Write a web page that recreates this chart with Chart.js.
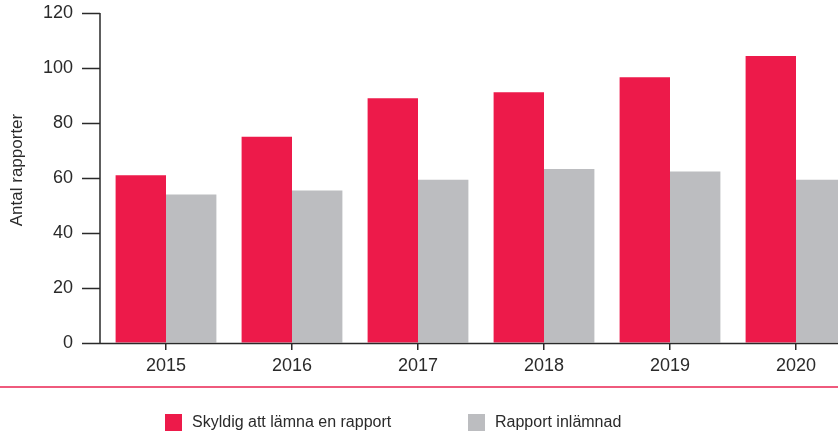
<!DOCTYPE html>
<html>
<head>
<meta charset="utf-8">
<script src="https://cdn.jsdelivr.net/npm/chart.js@4"></script>
<style>
  html, body { margin: 0; padding: 0; background: #fff; }
  #wrap { width: 838px; height: 435px; overflow: hidden; }
</style>
</head>
<body>
<div id="wrap"><canvas id="chart" width="860" height="435"></canvas></div>
<script>
const years = ["2015", "2016", "2017", "2018", "2019", "2020"];
const skyldig = [61, 75, 89, 91.2, 96.6, 104.4];
const inlamnad = [54, 55.5, 59.4, 63.3, 62.4, 59.4];
const seriesNames = ["Skyldig att lämna en rapport", "Rapport inlämnad"];
const seriesColors = ["#ED1A4A", "#BCBDC0"];
const yTitle = "Antal rapporter";

const FONT = "'Liberation Sans', Arial, sans-serif";
const INK = "#2a2a2a";

// axis lines, title, pink rule and legend drawn by hand
const extras = {
  id: "extras",
  afterDraw(chart) {
    const { ctx, chartArea, scales } = chart;
    const y = scales.y;
    const axX = chartArea.left - 3;
    ctx.save();
    ctx.strokeStyle = INK;
    ctx.lineWidth = 1.5;
    ctx.beginPath();
    ctx.moveTo(axX, chartArea.top);
    ctx.lineTo(axX, chartArea.bottom);
    y.ticks.forEach((t) => {
      const py = Math.round(y.getPixelForValue(t.value)) + 0.5;
      ctx.moveTo(chartArea.left - 21, py);
      ctx.lineTo(axX, py);
    });
    const by = Math.round(chartArea.bottom) + 0.5;
    ctx.moveTo(chartArea.left - 21, by);
    ctx.lineTo(chart.width, by);
    ctx.stroke();

    // y title
    ctx.fillStyle = INK;
    ctx.font = "17px " + FONT;
    ctx.textAlign = "center";
    ctx.textBaseline = "middle";
    ctx.translate(17, 170);
    ctx.rotate(-Math.PI / 2);
    ctx.fillText(yTitle, 0, 0);
    ctx.setTransform(1, 0, 0, 1, 0, 0);

    // pink rule
    ctx.strokeStyle = "#EF5A7D";
    ctx.lineWidth = 2;
    ctx.beginPath();
    ctx.moveTo(0, 387);
    ctx.lineTo(chart.width, 387);
    ctx.stroke();

    // legend
    const boxX = [165, 468];
    ctx.font = "16px " + FONT;
    ctx.textAlign = "left";
    ctx.textBaseline = "middle";
    chart.data.datasets.forEach((ds, i) => {
      ctx.fillStyle = ds.backgroundColor;
      ctx.fillRect(boxX[i], 414, 17, 17);
      ctx.fillStyle = INK;
      ctx.fillText(ds.label, boxX[i] + 27, 423);
    });
    ctx.restore();
  },
};

new Chart(document.getElementById("chart"), {
  type: "bar",
  data: {
    labels: years,
    datasets: [
      { label: seriesNames[0], data: skyldig, backgroundColor: seriesColors[0] },
      { label: seriesNames[1], data: inlamnad, backgroundColor: seriesColors[1] },
    ],
  },
  options: {
    responsive: false,
    devicePixelRatio: 1,
    animation: false,
    layout: { padding: { top: 13, right: 1, left: 0, bottom: 0 } },
    datasets: { bar: { categoryPercentage: 0.8, barPercentage: 1.0, borderWidth: 0 } },
    plugins: { legend: { display: false }, tooltip: { enabled: false } },
    scales: {
      x: {
        afterFit: (scale) => { scale.height = 92; },
        grid: { drawOnChartArea: false, offset: false, tickLength: 7, color: INK, lineWidth: 1.5 },
        border: { display: false },
        ticks: { color: INK, font: { family: FONT, size: 18 }, padding: 5 },
      },
      y: {
        min: 0,
        max: 120,
        afterFit: (scale) => {
          scale.width = 103;
          scale.paddingTop = 0;
          scale.paddingBottom = 0;
        },
        grid: { drawOnChartArea: false, tickLength: 21, color: "rgba(0,0,0,0)" },
        border: { display: false },
        ticks: { stepSize: 20, color: INK, font: { family: FONT, size: 18 }, padding: 9 },
      },
    },
  },
  plugins: [extras],
});
</script>
</body>
</html>
